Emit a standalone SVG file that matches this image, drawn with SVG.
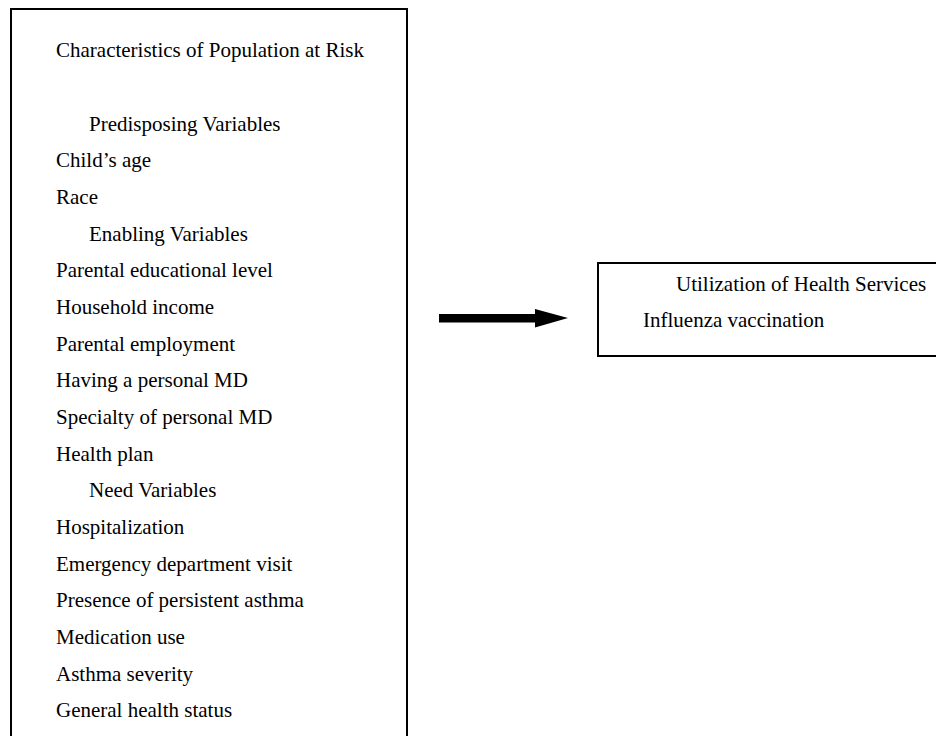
<svg xmlns="http://www.w3.org/2000/svg" width="936" height="736" viewBox="0 0 936 736">
  <style>
    .box { fill: #ffffff; stroke: #000000; stroke-width: 2; }
    .t { font-family: "Liberation Serif", "Times New Roman", serif; font-size: 21px; fill: #000000; }
  </style>
  <rect x="0" y="0" width="936" height="736" fill="#ffffff"/>
  <g id="population-at-risk">
    <rect class="box" x="11" y="9" width="396" height="740"/>
    <text class="t" x="56" y="57">Characteristics of Population at Risk</text>
    <text class="t" x="89" y="130.7">Predisposing Variables</text>
    <text class="t" x="56" y="167.4">Child’s age</text>
    <text class="t" x="56" y="204">Race</text>
    <text class="t" x="89" y="240.7">Enabling Variables</text>
    <text class="t" x="56" y="277.3">Parental educational level</text>
    <text class="t" x="56" y="314">Household income</text>
    <text class="t" x="56" y="350.7">Parental employment</text>
    <text class="t" x="56" y="387.3">Having a personal MD</text>
    <text class="t" x="56" y="424">Specialty of personal MD</text>
    <text class="t" x="56" y="460.6">Health plan</text>
    <text class="t" x="89" y="497.3">Need Variables</text>
    <text class="t" x="56" y="534">Hospitalization</text>
    <text class="t" x="56" y="570.6">Emergency department visit</text>
    <text class="t" x="56" y="607.3">Presence of persistent asthma</text>
    <text class="t" x="56" y="644">Medication use</text>
    <text class="t" x="56" y="680.6">Asthma severity</text>
    <text class="t" x="56" y="717.3">General health status</text>
  </g>
  <g id="utilization">
    <rect class="box" x="598" y="263" width="360" height="93"/>
    <text class="t" x="676" y="290.5">Utilization of Health Services</text>
    <text class="t" x="643" y="327">Influenza vaccination</text>
  </g>
  <g id="connectors">
    <polygon points="439,314 535,314 535,309 568,318 535,327.5 535,322.5 439,322.5" fill="#000000"/>
  </g>
</svg>
